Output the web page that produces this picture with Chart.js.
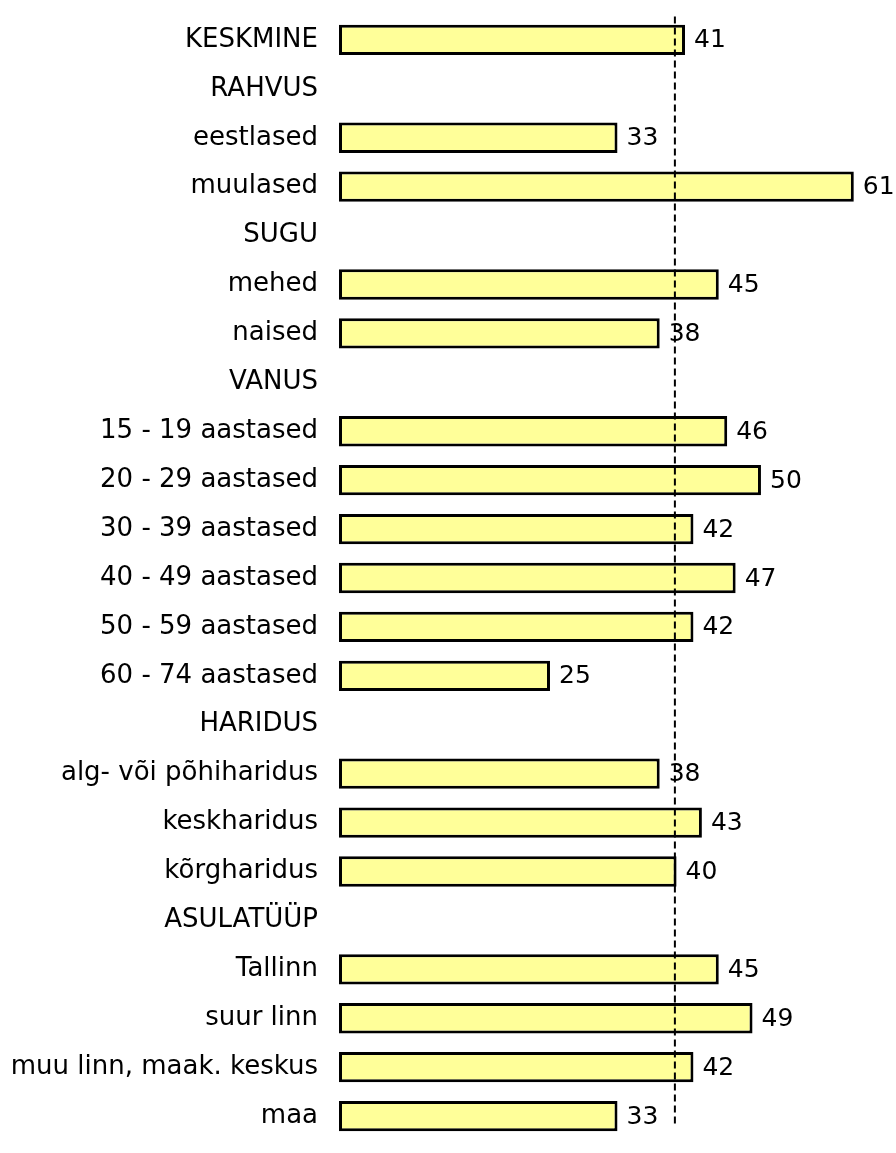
<!DOCTYPE html>
<html>
<head>
<meta charset="UTF-8">
<title>Keskmine</title>
<script src="https://cdn.jsdelivr.net/npm/chart.js@4/dist/chart.umd.min.js"></script>
<style>
  html, body { margin: 0; padding: 0; background: #fff; }
  #wrap { width: 896px; height: 1153px; }
</style>
</head>
<body>
<div id="wrap"><canvas id="chart"></canvas></div>
<script>
// Andmed
const categories = [
  'KESKMINE', 'RAHVUS', 'eestlased', 'muulased', 'SUGU', 'mehed', 'naised',
  'VANUS', '15 - 19 aastased', '20 - 29 aastased', '30 - 39 aastased',
  '40 - 49 aastased', '50 - 59 aastased', '60 - 74 aastased',
  'HARIDUS', 'alg- või põhiharidus', 'keskharidus', 'kõrgharidus',
  'ASULATÜÜP', 'Tallinn', 'suur linn', 'muu linn, maak. keskus', 'maa'
];
const values = [
  41, null, 33, 61, null, 45, 38,
  null, 46, 50, 42, 47, 42, 25,
  null, 38, 43, 40,
  null, 45, 49, 42, 33
];
const averageLine = 39.8;

const FONT = '"DejaVu Sans", Verdana, sans-serif';

// Väärtused tulpade järel
const valueLabels = {
  id: 'valueLabels',
  afterDatasetsDraw(chart) {
    const ctx = chart.ctx;
    const meta = chart.getDatasetMeta(0);
    ctx.save();
    ctx.font = '25px ' + FONT;
    ctx.fillStyle = '#000';
    ctx.textBaseline = 'middle';
    ctx.textAlign = 'left';
    meta.data.forEach((bar, i) => {
      if (values[i] === null) return;
      ctx.fillText(String(values[i]), bar.x + 9, bar.y + 1);
    });
    ctx.restore();
  }
};

// Katkendjoon
const avgLine = {
  id: 'avgLine',
  afterDraw(chart) {
    const ctx = chart.ctx;
    const x = chart.scales.x.getPixelForValue(averageLine);
    ctx.save();
    ctx.strokeStyle = '#000';
    ctx.lineWidth = 2;
    ctx.setLineDash([7, 4]);
    ctx.beginPath();
    ctx.moveTo(x, chart.chartArea.top + 1);
    ctx.lineTo(x, chart.chartArea.bottom - 13);
    ctx.stroke();
    ctx.restore();
  }
};

const ctx = document.getElementById('chart').getContext('2d');
new Chart(ctx, {
  type: 'bar',
  data: {
    labels: categories,
    datasets: [{
      data: values,
      backgroundColor: '#FFFF99',
      borderColor: '#000',
      borderWidth: 3,
      borderSkipped: false,
      barPercentage: 0.62,
      categoryPercentage: 1
    }]
  },
  options: {
    indexAxis: 'y',
    responsive: true,
    maintainAspectRatio: false,
    animation: false,
    layout: { padding: { top: 15.5, bottom: 12.5, left: 0, right: 0 } },
    plugins: {
      legend: { display: false },
      tooltip: { enabled: false }
    },
    scales: {
      x: {
        display: false,
        min: 0,
        max: 66
      },
      y: {
        grid: {
          display: true,
          drawOnChartArea: false,
          drawTicks: true,
          tickLength: 20,
          color: 'rgba(0,0,0,0)'
        },
        border: { display: false },
        ticks: {
          color: '#000',
          padding: 1,
          font: { family: FONT, size: 26 },
          autoSkip: false
        },
        afterFit(scale) {
          scale.width = 339;
          scale.paddingTop = 0;
          scale.paddingBottom = 0;
        }
      }
    }
  },
  plugins: [valueLabels, avgLine]
});
</script>
</body>
</html>
